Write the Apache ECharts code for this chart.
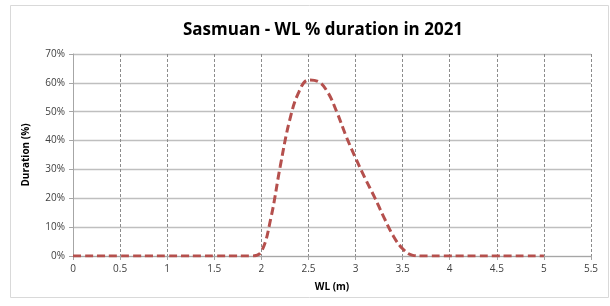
<!DOCTYPE html>
<html>
<head>
<meta charset="utf-8">
<script src="https://cdn.jsdelivr.net/npm/echarts@6/dist/echarts.min.js"></script>
<style>
  html, body { margin: 0; padding: 0; background: #fff; }
  #chart { width: 610px; height: 306px; }
</style>
</head>
<body>
<div id="chart"></div>
<script>
// water level (m) and % of time at that level
const wlLevels = [0, 0.1, 0.2, 0.3, 0.4, 0.5, 0.6, 0.7, 0.8, 0.9, 1, 1.1, 1.2, 1.3, 1.4, 1.5, 1.6, 1.7, 1.8, 1.9,
  2, 2.1, 2.2, 2.3, 2.4, 2.5, 2.6, 2.7, 2.8, 2.9, 3, 3.1, 3.2, 3.3, 3.4, 3.5, 3.6, 3.7, 3.8, 3.9,
  4, 4.1, 4.2, 4.3, 4.4, 4.5, 4.6, 4.7, 4.8, 4.9, 5]
const durationPct = [0, 0, 0, 0, 0, 0, 0, 0, 0, 0, 0, 0, 0, 0, 0, 0, 0, 0, 0, 0,
  1.5, 13, 31, 47, 57, 61, 60.5, 57, 50, 41.5, 34, 27, 20.5, 13.5, 7, 2.5, 0.3, 0, 0, 0,
  0, 0, 0, 0, 0, 0, 0, 0, 0, 0, 0]
const xTicks = [0, 0.5, 1, 1.5, 2, 2.5, 3, 3.5, 4, 4.5, 5, 5.5]

const chart = echarts.init(document.getElementById('chart'))

const option = {
  animation: false,
  title: {
    text: 'Sasmuan - WL % duration in 2021',
    left: 318,
    top: 17,
    textAlign: 'center',
    textStyle: {
      fontFamily: 'Open Sans',
      fontWeight: 'bold',
      fontSize: 17,
      color: '#000'
    }
  },
  // chart frame
  graphic: [{
    type: 'rect',
    shape: { x: 10.5, y: 5.5, width: 598, height: 292 },
    style: { fill: 'none', stroke: '#d9d9d9', lineWidth: 1 },
    silent: true
  }],
  grid: { left: 73, right: 19, top: 54, bottom: 50 },
  xAxis: {
    type: 'value',
    min: 0,
    max: 5.5,
    interval: 0.5,
    name: 'WL (m)',
    nameLocation: 'middle',
    nameGap: 26,
    nameTextStyle: { fontFamily: 'Open Sans', fontWeight: 'bold', fontSize: 10, color: '#000' },
    axisLine: { lineStyle: { color: '#a6a6a6' } },
    axisTick: { show: true, length: 4, lineStyle: { color: '#a6a6a6' } },
    axisLabel: {
      fontFamily: 'Open Sans', fontSize: 10, color: '#404040', margin: 8,
      formatter: (v) => (xTicks.includes(v) ? String(v) : '')
    },
    splitLine: { show: true, lineStyle: { color: '#8c8c8c', type: [3, 2], width: 1 } }
  },
  yAxis: {
    type: 'value',
    min: 0,
    max: 70,
    interval: 10,
    name: 'Duration (%)',
    nameLocation: 'middle',
    nameGap: 42,
    nameTextStyle: { fontFamily: 'Open Sans', fontWeight: 'bold', fontSize: 10, color: '#000' },
    axisLine: { show: true, lineStyle: { color: '#a6a6a6' } },
    axisTick: { show: true, length: 4, lineStyle: { color: '#a6a6a6' } },
    axisLabel: {
      fontFamily: 'Open Sans', fontSize: 10, color: '#404040', margin: 8,
      formatter: '{value}%'
    },
    splitLine: { lineStyle: { color: '#bfbfbf', width: 1.3 } }
  },
  series: [{
    type: 'line',
    data: wlLevels.map((x, i) => [x, durationPct[i]]),
    smooth: 0.4,
    showSymbol: false,
    lineStyle: { color: '#b5504d', width: 3, type: [8, 4] }
  }]
}

chart.setOption(option)
</script>
</body>
</html>
